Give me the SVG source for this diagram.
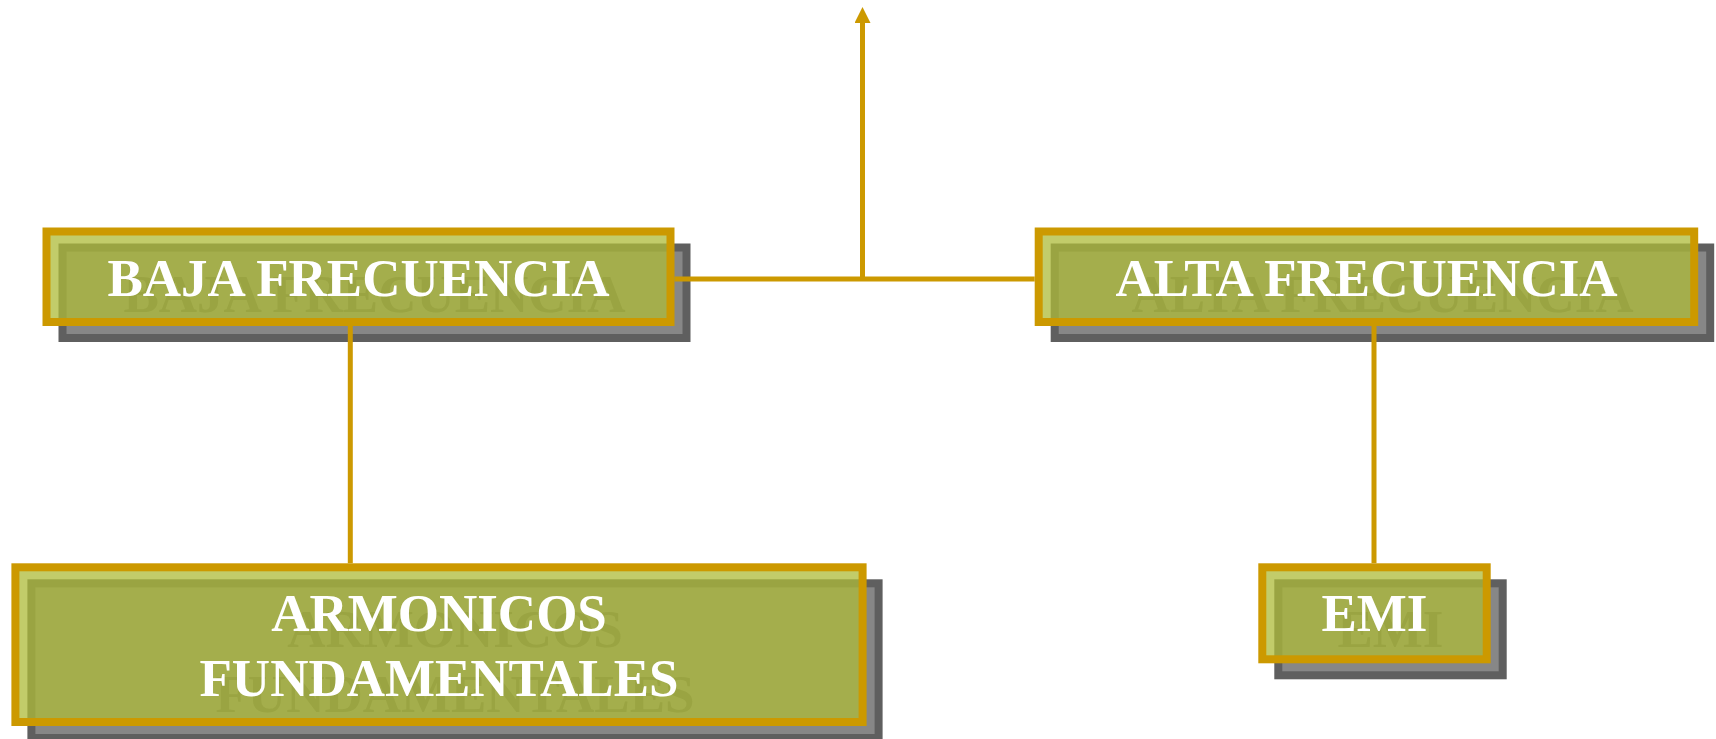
<svg xmlns="http://www.w3.org/2000/svg" width="1716" height="739" viewBox="0 0 1716 739">
<style>
.sh{fill:#878787;stroke:#5f5f5f;stroke-width:8}
.bx{fill:rgb(174,187,56);fill-opacity:0.75;stroke:none}
.bd{fill:none;stroke:#cc9900;stroke-width:8}
.t{font-family:"Liberation Serif","Times New Roman",serif;font-weight:bold;font-size:53px;text-anchor:middle}
.tw{fill:#ffffff}
.tg{fill:#606060}
.cn{stroke:#cc9900;stroke-width:5;fill:none}
</style>
<defs>
<marker id="ah" viewBox="0 0 16 16" refX="0" refY="8" markerWidth="16" markerHeight="16" markerUnits="userSpaceOnUse" orient="auto">
<path d="M0,0 L16,8 L0,16 z" fill="#cc9900"/>
</marker>
</defs>
<rect width="1716" height="739" fill="#ffffff"/>
<g id="baja">
<rect class="sh" x="62.5" y="247.5" width="624" height="90.5"/>
<text class="t tg" x="374.5" y="312">BAJA FRECUENCIA</text>
<rect class="bx" x="46.5" y="231.5" width="624" height="90.5"/>
<rect class="bd" x="46.5" y="231.5" width="624" height="90.5"/>
<text class="t tw" x="358.5" y="296">BAJA FRECUENCIA</text>
</g>
<g id="alta">
<rect class="sh" x="1054.7" y="247.5" width="655.5" height="90.5"/>
<text class="t tg" x="1382.5" y="312">ALTA FRECUENCIA</text>
<rect class="bx" x="1038.7" y="231.5" width="655.5" height="90.5"/>
<rect class="bd" x="1038.7" y="231.5" width="655.5" height="90.5"/>
<text class="t tw" x="1366.5" y="296">ALTA FRECUENCIA</text>
</g>
<g id="armonicos">
<rect class="sh" x="31.4" y="583.3" width="847.2" height="154.7"/>
<text class="t tg" x="455" y="647">ARMONICOS</text>
<text class="t tg" x="455" y="712">FUNDAMENTALES</text>
<rect class="bx" x="15.4" y="567.3" width="847.2" height="154.7"/>
<rect class="bd" x="15.4" y="567.3" width="847.2" height="154.7"/>
<text class="t tw" x="439" y="631">ARMONICOS</text>
<text class="t tw" x="439" y="696">FUNDAMENTALES</text>
</g>
<g id="emi">
<rect class="sh" x="1278.3" y="583.3" width="224.4" height="92"/>
<text class="t tg" x="1390.5" y="647">EMI</text>
<rect class="bx" x="1262.3" y="567.3" width="224.4" height="92"/>
<rect class="bd" x="1262.3" y="567.3" width="224.4" height="92"/>
<text class="t tw" x="1374.5" y="631">EMI</text>
</g>
<g id="connectors">
<line class="cn" x1="674.5" y1="279" x2="1034.7" y2="279"/>
<line class="cn" x1="862.5" y1="279" x2="862.5" y2="23" marker-end="url(#ah)"/>
<line class="cn" x1="350.3" y1="326" x2="350.3" y2="563.3"/>
<line class="cn" x1="1374" y1="326" x2="1374" y2="563.3"/>
</g>
</svg>
